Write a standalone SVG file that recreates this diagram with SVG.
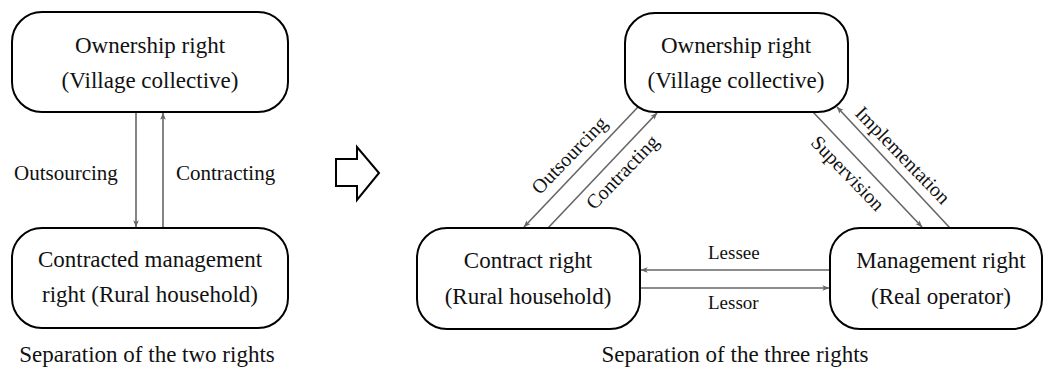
<svg xmlns="http://www.w3.org/2000/svg" width="1044" height="373" viewBox="0 0 1044 373">
<defs>
<style>
.box{fill:#fff;stroke:#000;stroke-width:2}
.t{font-family:"Liberation Serif","Times New Roman",serif;font-size:23px;fill:#111;text-anchor:middle}
.lbl{font-family:"Liberation Serif","Times New Roman",serif;font-size:21px;fill:#111}
.dl{font-family:"Liberation Serif","Times New Roman",serif;font-size:20px;fill:#111;text-anchor:middle}
.ll{font-family:"Liberation Serif","Times New Roman",serif;font-size:19px;fill:#111}
.c{fill:none;stroke:#666;stroke-width:1.6;marker-end:url(#ah)}
</style>
<marker id="ah" viewBox="0 0 10 10" refX="9.5" refY="5" markerWidth="7" markerHeight="7" markerUnits="userSpaceOnUse" orient="auto">
<path d="M0,1 L10,5 L0,9 L2.5,5 Z" fill="#666"/>
</marker>
</defs>
<rect width="1044" height="373" fill="#fff"/>

<g id="connectors">
<line class="c" x1="136" y1="113" x2="136" y2="227"/>
<line class="c" x1="163" y1="227" x2="163" y2="113"/>
<line class="c" x1="638" y1="107" x2="524" y2="227"/>
<line class="c" x1="548" y1="228" x2="657" y2="113"/>
<line class="c" x1="813" y1="112" x2="922" y2="227"/>
<line class="c" x1="950" y1="228" x2="837" y2="107"/>
<line class="c" x1="829" y1="270" x2="641" y2="270"/>
<line class="c" x1="641" y1="288" x2="829" y2="288"/>
</g>

<g id="labels">
<text class="lbl" x="14" y="180">Outsourcing</text>
<text class="lbl" x="176" y="180">Contracting</text>
<text class="dl" transform="translate(569,155) rotate(-46)" y="7">Outsourcing</text>
<text class="dl" transform="translate(622,172) rotate(-46)" y="7">Contracting</text>
<text class="dl" transform="translate(848,173) rotate(46)" y="7">Supervision</text>
<text class="dl" transform="translate(903,155) rotate(46)" y="7">Implementation</text>
<text class="ll" x="708" y="259">Lessee</text>
<text class="ll" x="708" y="309">Lessor</text>
</g>

<g id="node-ownership-left">
<rect class="box" x="12" y="12" width="276" height="100" rx="30" ry="30"/>
<text class="t" x="150" y="53">Ownership right</text>
<text class="t" x="150" y="88">(Village collective)</text>
</g>

<g id="node-contracted-left">
<rect class="box" x="12" y="228" width="276" height="100" rx="30" ry="30"/>
<text class="t" x="150" y="267">Contracted management</text>
<text class="t" x="150" y="302">right (Rural household)</text>
</g>

<g id="caption-left">
<text class="t" x="147" y="362">Separation of the two rights</text>
</g>

<g id="hollow-arrow">
<polygon points="336,159 357,159 357,147 379,173 357,200 357,186 336,186" fill="#fff" stroke="#000" stroke-width="2" stroke-linejoin="miter"/>
</g>

<g id="node-ownership-right">
<rect class="box" x="625" y="13" width="223" height="99" rx="30" ry="30"/>
<text class="t" x="736" y="53">Ownership right</text>
<text class="t" x="736" y="88">(Village collective)</text>
</g>

<g id="node-contract-right">
<rect class="box" x="417" y="228" width="223" height="101" rx="30" ry="30"/>
<text class="t" x="528" y="268">Contract right</text>
<text class="t" x="528" y="304">(Rural household)</text>
</g>

<g id="node-management-right">
<rect class="box" x="830" y="228" width="212" height="101" rx="30" ry="30"/>
<text class="t" x="941" y="268">Management right</text>
<text class="t" x="941" y="304">(Real operator)</text>
</g>

<g id="caption-right">
<text class="t" x="735" y="362">Separation of the three rights</text>
</g>
</svg>
